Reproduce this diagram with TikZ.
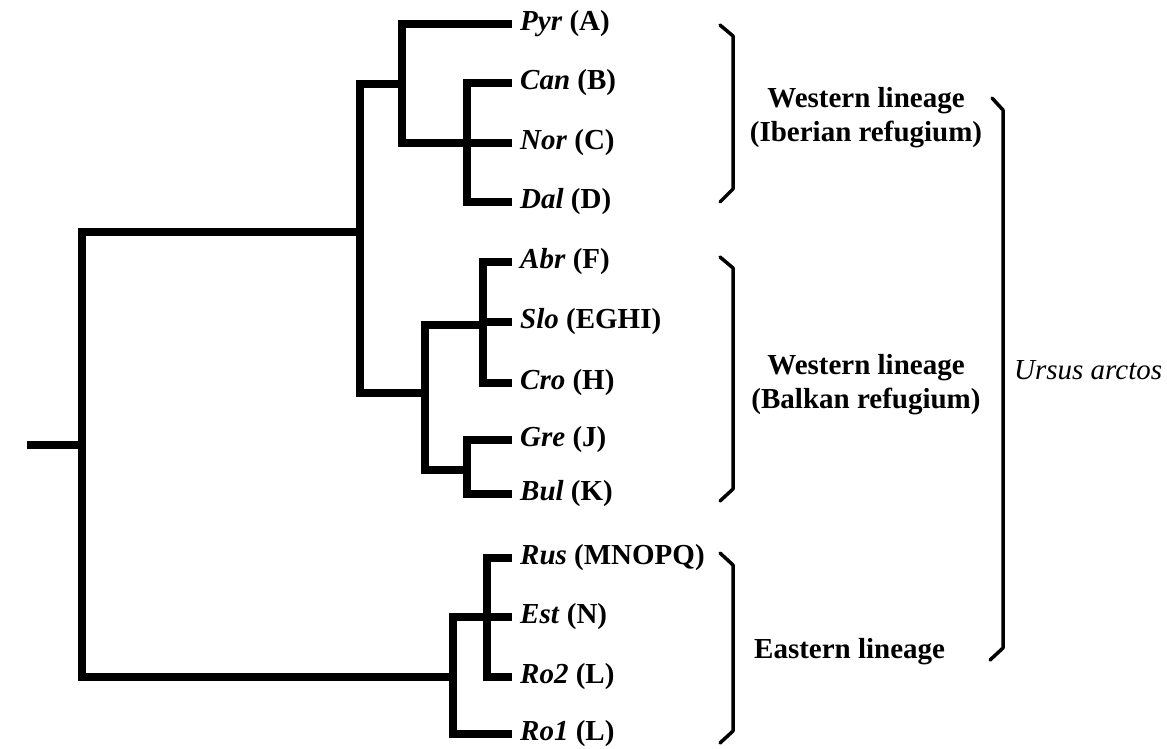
\documentclass[tikz,border=0pt]{standalone}
\usepackage{fontspec}
\setmainfont{Liberation Serif}
\usetikzlibrary{positioning}
\tikzset{branch/.style={line width=8pt, line join=miter}, % tree lines
    brace/.style={line width=3.5pt, line join=round, line cap=round}} % lineage brackets

\begin{document}
\begin{tikzpicture}[x=1pt, y=-1pt,
        leaf/.style={anchor=west, inner xsep=8pt, inner ysep=0pt, font=\fontsize{29}{34}\selectfont\bfseries},
        group/.style={align=center, font=\fontsize{29}{34}\selectfont\bfseries},
        species/.style={anchor=west, inner xsep=3pt, font=\fontsize{29}{34}\selectfont\itshape}
    ]
    \useasboundingbox (0,0) rectangle (1167,748);

    % Leaves
    \node[leaf] (pyr) at (512,24) {\textit{Pyr} (A)};
    \node[leaf] (can) at (512,83) {\textit{Can} (B)};
    \node[leaf] (nor) at (512,143) {\textit{Nor} (C)};
    \node[leaf] (dal) at (512,202) {\textit{Dal} (D)};
    \node[leaf] (abr) at (512,262) {\textit{Abr} (F)};
    \node[leaf] (slo) at (512,322) {\textit{Slo} (EGHI)};
    \node[leaf] (cro) at (512,383) {\textit{Cro} (H)};
    \node[leaf] (gre) at (512,440) {\textit{Gre} (J)};
    \node[leaf] (bul) at (512,494) {\textit{Bul} (K)};
    \node[leaf] (rus) at (512,558) {\textit{Rus} (MNOPQ)};
    \node[leaf] (est) at (512,617) {\textit{Est} (N)};
    \node[leaf] (rob) at (512,677) {\textit{Ro2} (L)};
    \node[leaf] (roa) at (512,734) {\textit{Ro1} (L)};

    % Forks
    \coordinate (stem) at (27,445);
    \coordinate (root) at (82,445);
    \coordinate (west) at (360,232);
    \coordinate (iberia) at (402,84);
    \coordinate (cnd) at (467,143);
    \coordinate (balkan) at (425,393);
    \coordinate (asc) at (483,325);
    \coordinate (gb) at (467,470);
    \coordinate (east) at (453,677);
    \coordinate (rer) at (487,617);

    % Tree
    \draw[branch] (stem) -- (root);
    \draw[branch] (root) |- (west) (root) |- (east);
    \draw[branch] (west) |- (iberia) (west) |- (balkan);
    \draw[branch] (iberia) |- (pyr.west) (iberia) |- (cnd);
    \draw[branch] (cnd) |- (can.west) (cnd) |- (nor.west) (cnd) |- (dal.west);
    \draw[branch] (balkan) |- (asc) (balkan) |- (gb);
    \draw[branch] (asc) |- (abr.west) (asc) |- (slo.west) (asc) |- (cro.west);
    \draw[branch] (gb) |- (gre.west) (gb) |- (bul.west);
    \draw[branch] (east) |- (rer) (east) |- (roa.west);
    \draw[branch] (rer) |- (rus.west) (rer) |- (est.west) (rer) |- (rob.west);

    % Brackets
    \draw[brace] (720,25) -- (733,36) -- (733,189) -- (720,202);
    \draw[brace] (720,257) -- (733,268) -- (733,489) -- (720,501);
    \draw[brace] (720,553) -- (733,565) -- (733,731) -- (720,743);
    \draw[brace] (992,98) -- (1003,110) -- (1003,648) -- (990,660);

    % Lineage labels
    \node[group] (iberlab) at (866,118) {Western lineage\\(Iberian refugium)};
    \node[group] (balklab) at (866,385) {Western lineage\\(Balkan refugium)};
    \node[group, anchor=west, inner xsep=2pt] (eastlab) at (752,652) {Eastern lineage};
    \node[species] (ursus) at (1011,370) {Ursus arctos};
\end{tikzpicture}
\end{document}
